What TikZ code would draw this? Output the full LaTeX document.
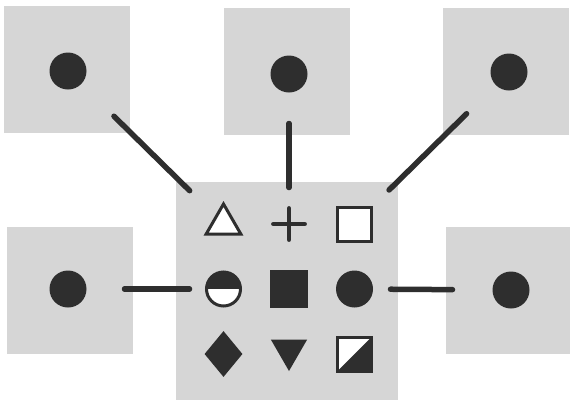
\documentclass[tikz,border=0pt]{standalone}
\usepackage{tikz}
\usetikzlibrary{positioning,shapes.geometric}
\definecolor{screen}{HTML}{D6D6D6}
\definecolor{ink}{HTML}{2E2E2E}
\tikzset{
    panel/.style={
        fill=screen, minimum width=126pt, minimum height=127pt, inner sep=0pt
    },
    panelbig/.style={
        fill=screen, minimum width=222pt, minimum height=218pt, inner sep=0pt
    },
    dot/.style={circle, fill=ink, minimum size=37pt, inner sep=0pt},
    link/.style={draw=ink, line width=5.5pt, line cap=round},
    outline/.style={draw=ink, fill=white, line width=3pt, inner sep=0pt},
    inkfill/.style={fill=ink, inner sep=0pt},
    plusbar/.style={draw=ink, line width=4.5pt, line cap=round},
}
\begin{document}
\begin{tikzpicture}[
        x=1pt, y=-1pt,
        node distance=65pt and 65.5pt, on grid,
    ]
        \useasboundingbox (0,0) rectangle (570,405);
        \node[panel] (tl) at (66.5,69.5) {};
        \node[panel] (tm) at (286.5,71) {};
        \node[panel] (tr) at (505.5,71) {};
        \node[panel] (ml) at (69.5,290.5) {};
        \node[panel] (mr) at (508.5,290.5) {};
        \node[panelbig] (mid) at (287,291) {};
        \node[dot] (dotTL) at (68,71) {};
        \node[dot] (dotTM) at (289,74) {};
        \node[dot] (dotTR) at (509,72) {};
        \node[dot] (dotML) at (68,289) {};
        \node[dot] (dotMR) at (511,290) {};
        \node[inkfill, rectangle, minimum size=38pt] (fillsq) at (289,289) {};
        \node[inkfill, circle, minimum size=37pt, right=of fillsq] (fillcirc) {};
        \node[outline, circle, minimum size=34pt, left=of fillsq,
            path picture={\fill[ink] (path picture bounding box.west) rectangle (path picture bounding box.north east);}] (halfcirc) {};
        \node[minimum size=31pt, inner sep=0pt, above=of fillsq] (plus) {};
        \node[outline, regular polygon, regular polygon sides=3, minimum size=40pt, above=of halfcirc] (tri) {};
        \node[outline, rectangle, minimum size=34pt, above=of fillcirc] (opensq) {};
        \node[inkfill, diamond, minimum width=38pt, minimum height=46pt, below=of halfcirc] (diam) {};
        \node[inkfill, regular polygon, regular polygon sides=3, shape border rotate=180,
            minimum size=42pt, below=of fillsq, yshift=4pt] (invtri) {};
        \node[outline, rectangle, minimum size=34pt, below=of fillcirc,
            path picture={\fill[ink] (path picture bounding box.south west) -- (path picture bounding box.north east) -- (path picture bounding box.south east) -- cycle;}] (halfsq) {};
        \draw[plusbar] (plus.north) -- (plus.south) (plus.west) -- (plus.east);
        \draw[link, shorten <=64.5pt, shorten >=47.5pt] (dotTL.center) -- (tri.center);
        \draw[link, shorten <=49.5pt, shorten >=36.5pt] (dotTM.center) -- (plus.center);
        \draw[link, shorten <=59.5pt, shorten >=48.5pt] (dotTR.center) -- (opensq.center);
        \draw[link, shorten <=56.5pt, shorten >=34pt] (dotML.center) -- (halfcirc.center);
        \draw[link, shorten <=58.5pt, shorten >=36pt] (dotMR.center) -- (fillcirc.center);
    \end{tikzpicture}
\end{document}
